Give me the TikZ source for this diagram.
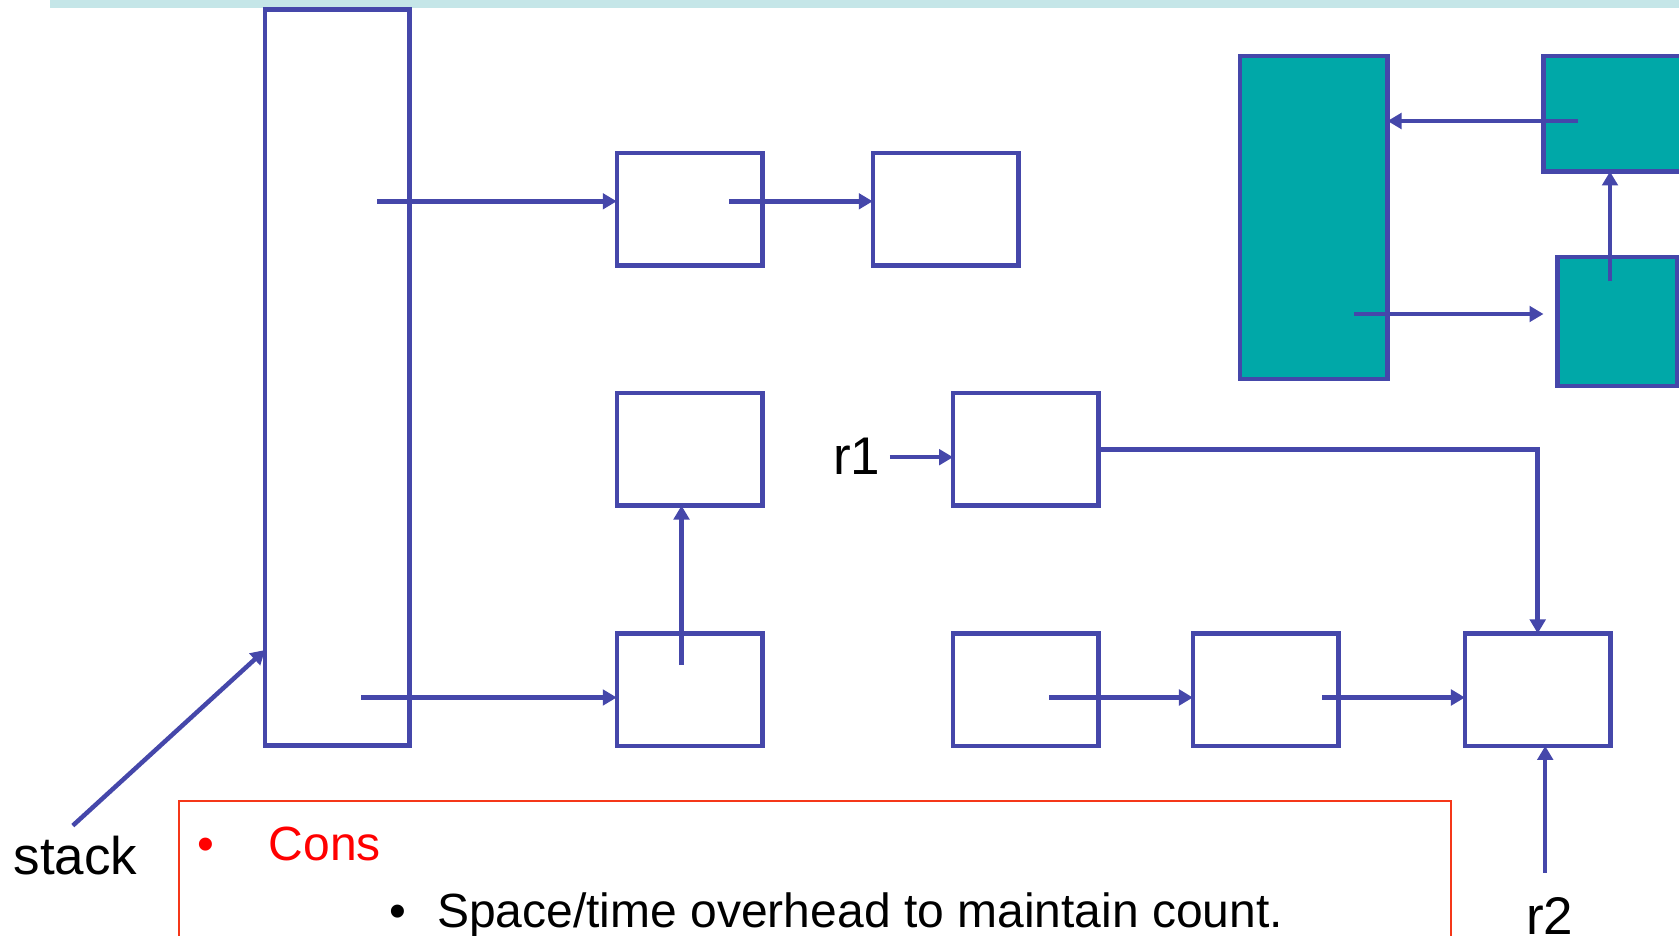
\documentclass[tikz,border=0pt]{standalone}
\usepackage{fontspec}
\setmainfont{Liberation Sans}
\usetikzlibrary{arrows.meta}
\definecolor{ink}{RGB}{69,71,170}
\definecolor{heap}{RGB}{0,168,168}
\definecolor{band}{RGB}{197,230,232}
\definecolor{frame}{RGB}{245,55,25}
\tikzset{
  cell/.style={draw=ink, line width=4.5pt, inner sep=0pt, outer sep=0pt,
    minimum width=145.5pt, minimum height=112.5pt},
  live/.style={cell, fill=heap},
  ptr/.style={draw=ink, line width=4.5pt, -{Triangle[length=14pt,width=15.5pt]}},
  lbl/.style={inner sep=0pt, anchor=base west, font=\fontsize{53}{60}\selectfont},
  txt/.style={inner sep=0pt, font=\fontsize{48}{58}\selectfont}
}
\begin{document}
\begin{tikzpicture}[x=1pt, y=-1pt]
\useasboundingbox (0,0) rectangle (1679,936);
% header band
\fill[band] (50,0) rectangle (1679,7.7);

% stack frame
\node[cell, minimum width=144.5pt, minimum height=736.2pt] (stack) at (337.25,377.6) {};

% cells reachable from the stack
\node[cell] (a1) at (689.5,209.3) {};
\node[cell] (a2) at (945.5,209.3) {};
\node[cell] (b1) at (689.5,449.3) {};
\node[cell] (c1) at (689.5,689.7) {};

% cells reached through r1 / r2
\node[cell] (q)  at (1025.8,449.3) {};
\node[cell] (d1) at (1025.8,689.7) {};
\node[cell] (d2) at (1265.7,689.7) {};
\node[cell] (d3) at (1537.7,689.7) {};

% unreachable cycle
\node[live, minimum width=147.5pt, minimum height=323pt] (g1) at (1313.75,217.5) {};
\node[live, minimum width=146.5pt, minimum height=115.5pt] (g2) at (1616.75,113.75) {};
\node[live, minimum width=120pt, minimum height=129pt] (g3) at (1617.5,321.5) {};

% pointer tails
\coordinate (sa) at (377,201.3);
\coordinate (sc) at (361,697.5);
\coordinate (pa) at (729.2,201.3);
\coordinate (pc) at (681.5,665);
\coordinate (pd1) at (1049.4,697.5);
\coordinate (pd2) at (1322.4,697.5);
\coordinate (pr1) at (889.8,457.2);
\coordinate (pr2) at (1545.2,872.7);
\coordinate (pst) at (72.8,825.6);
\coordinate (tip) at (264.5,650);
\coordinate (pg2) at (1578,121);
\coordinate (pg1) at (1354,314);
\coordinate (pg3) at (1610,281);

% pointers
\draw[ptr] (sa) -- (sa -| a1.west);
\draw[ptr] (pa) -- (pa -| a2.west);
\draw[ptr] (sc) -- (sc -| c1.west);
\draw[ptr] (pc) -- (pc |- b1.south);
\draw[ptr] (pr1) -- (pr1 -| q.west);
\draw[ptr] (q.east) -| (d3.north);
\draw[ptr] (pd1) -- (pd1 -| d2.west);
\draw[ptr] (pd2) -- (pd2 -| d3.west);
\draw[ptr] (pr2) -- (pr2 |- d3.south);
\draw[ptr] (pst) -- (tip -| stack.west);
\draw[ptr] (pg2) -- (pg2 -| g1.east);
\draw[ptr] (pg1) -- (pg1 -| g2.west);
\draw[ptr] (pg3) -- (pg3 |- g2.south);

% labels
\node[lbl] (lstack) at (13.5,874) {stack};
\node[lbl] (lr1) at (833,474) {r1};
\node[lbl] (lr2) at (1526,934) {r2};

% notes box
\draw[frame, line width=1.5pt] (178.8,940) -- (178.8,801) -- (1451,801) -- (1451,940);
\node[txt, anchor=base, text=red] (b1dot) at (205.6,860) {•};
\node[txt, anchor=base west, text=red] (cons) at (268.5,860) {Cons};
\node[txt, anchor=base] (b2dot) at (398.3,927) {•};
\node[txt, anchor=base west] (cost) at (437,927) {Space/time overhead to maintain count.};
\end{tikzpicture}
\end{document}
